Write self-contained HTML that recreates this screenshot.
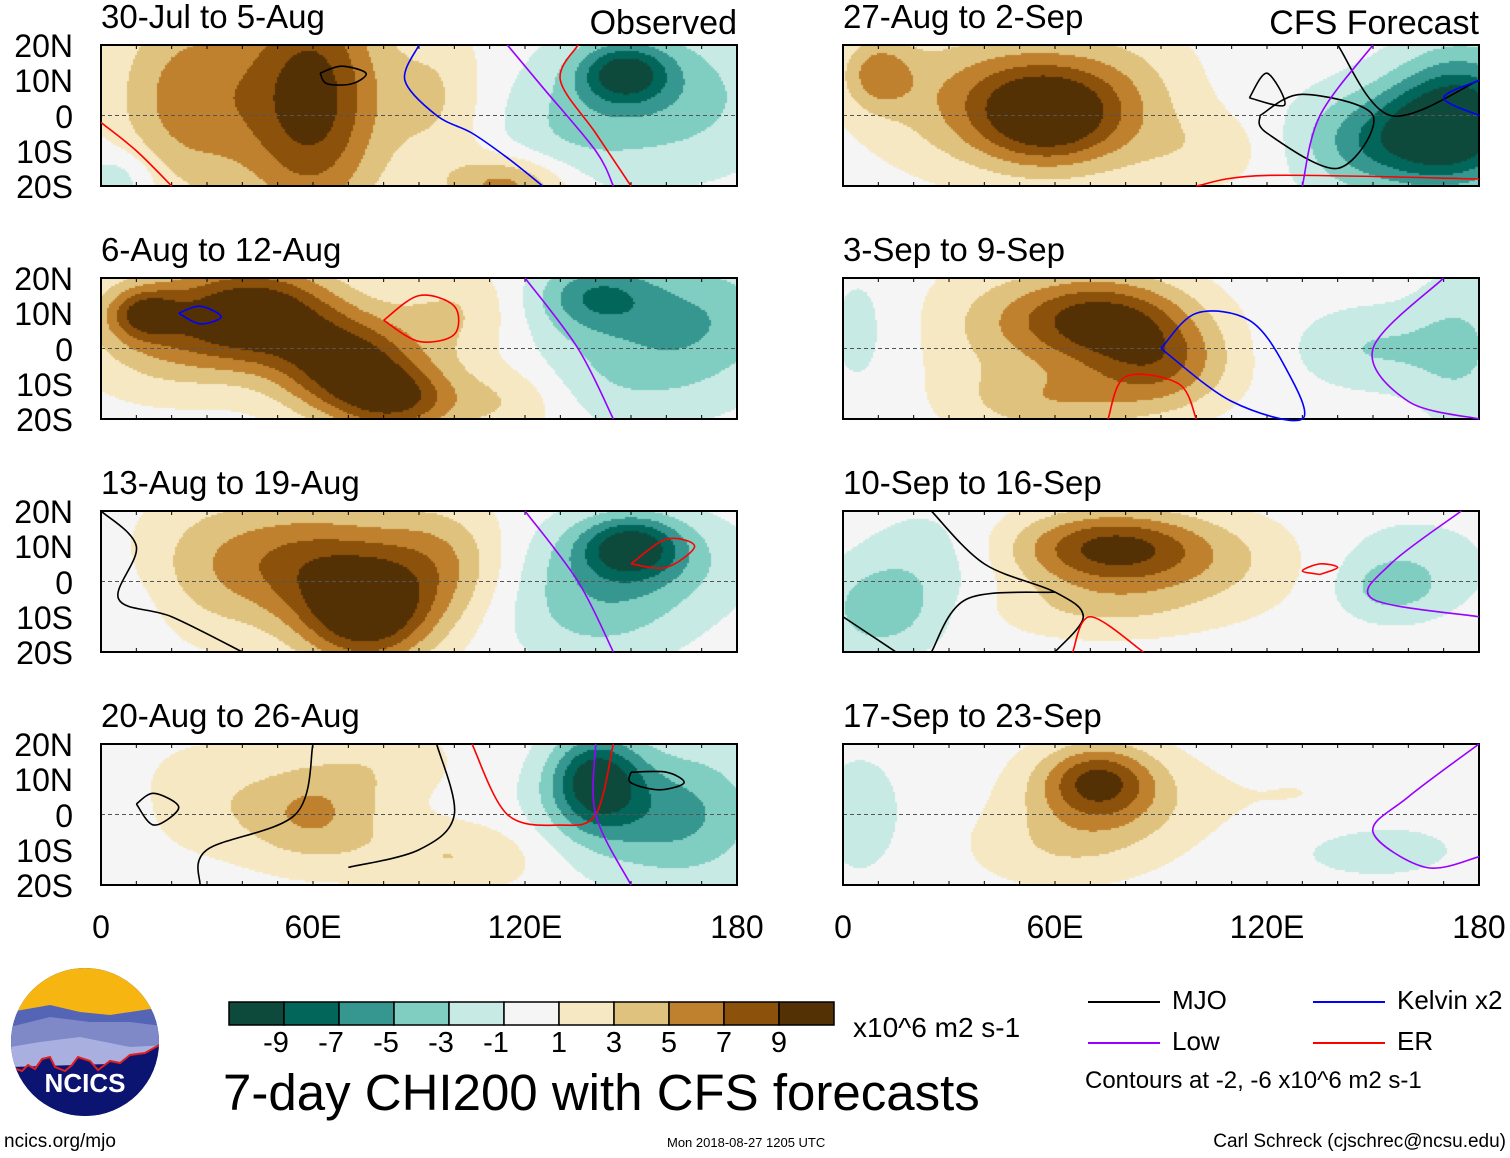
<!DOCTYPE html>
<html><head><meta charset="utf-8"><style>
body{margin:0;width:1510px;height:1158px;background:#fff;position:relative;overflow:hidden;font-family:"Liberation Sans",sans-serif;color:#000}
.t{position:absolute;white-space:nowrap;line-height:1}
canvas{position:absolute}
svg{position:absolute;left:0;top:0}
</style></head><body>
<div id="root"></div>
<svg id="ov" width="1510" height="1158"></svg>
<script>
// ---- data ----
const panelTitles=["30-Jul to 5-Aug","6-Aug to 12-Aug","13-Aug to 19-Aug","20-Aug to 26-Aug","27-Aug to 2-Sep","3-Sep to 9-Sep","10-Sep to 16-Sep","17-Sep to 23-Sep"];
const yTicks=["20N","10N","0","10S","20S"];
const xTicks=["0","60E","120E","180"];
const levels=[-9,-7,-5,-3,-1,1,3,5,7,9];
const levelColors=["#0d4a3c","#02665b","#35978f","#80cdc1","#c7eae5","#f5f5f5","#f6e8c3","#dfc27d","#bf812d","#8c510a","#543005"];
// anomaly centres per panel: [lon, lat, amplitude, lon-width, lat-width]
const blobs1=[[60,5,10,14,25],[25,5,6,15,20],[95,5,3,10,15],[115,-20,6,12,6],[148,12,-8,9,6],[160,5,-4,22,15],[130,-5,-2,15,12],[5,-18,-3,8,6]];
const blobs2=[[45,10,10,16,10],[70,-5,10,14,10],[85,-15,7,12,7],[20,5,5,18,12],[100,10,3,12,10],[115,-15,3,12,8],[140,15,-6,12,7],[170,10,-4,18,12],[150,-5,-3,22,12],[12,10,6,7,5]];
const blobs3=[[75,-10,10,13,10],[60,5,7,18,12],[95,5,5,14,12],[30,5,3,15,15],[150,10,-8,10,6],[150,5,-4,22,10],[140,-10,-3,18,10],[5,-10,-1,10,10]];
const blobs4=[[60,0,5,14,10],[80,15,2,15,8],[100,-12,3,18,7],[30,5,2,15,12],[140,10,-9,9,9],[150,0,-4,18,12],[170,0,-3,15,15],[0,0,-1,8,8]];
const blobs5=[[58,0,9,14,10],[40,5,5,22,14],[80,5,3,15,15],[10,12,5,7,7],[175,0,-9,13,13],[160,-5,-5,18,10],[150,-10,-3,18,10],[105,-10,2,15,8]];
const blobs6=[[72,8,10,18,9],[90,-5,6,14,9],[60,-15,4,18,7],[40,5,2,15,15],[150,0,-3,15,8],[175,0,-3,10,15],[5,5,-1.5,8,15]];
const blobs7=[[75,10,7,18,7],[90,5,4,28,10],[70,-8,2,22,6],[10,-8,-4,11,9],[25,5,-2,14,12],[155,-2,-3,10,6],[160,5,-2,18,10]];
const blobs8=[[72,10,7,11,7],[75,3,4,18,10],[60,-10,2,18,8],[5,0,-2,9,13],[150,-10,-2,18,6],[130,5,1,18,10]];
const allBlobs=[blobs1,blobs2,blobs3,blobs4,blobs5,blobs6,blobs7,blobs8];
// contour lines per panel: [panel, color, [[lon,lat],...]]
const contours=[
[0,"#000",[[62,12],[68,14],[75,12],[71,9],[64,9],[62,12]]],
[0,"#00f",[[90,20],[86,10],[95,0],[105,-5],[115,-12],[125,-20]]],
[0,"#f00",[[0,-2],[10,-10],[20,-20]]],
[0,"#f00",[[135,20],[130,10],[140,-5],[150,-20]]],
[0,"#90f",[[115,20],[125,8],[140,-10],[145,-20]]],
[1,"#00f",[[22,10],[28,12],[34,9],[28,7],[22,10]]],
[1,"#f00",[[80,8],[90,15],[100,12],[100,4],[90,2],[80,8]]],
[1,"#90f",[[120,20],[135,0],[145,-20]]],
[2,"#000",[[0,20],[10,10],[5,-5],[20,-10],[40,-20]]],
[2,"#f00",[[150,5],[160,12],[168,10],[160,4],[150,5]]],
[2,"#90f",[[120,20],[135,0],[145,-20]]],
[3,"#000",[[10,3],[15,6],[22,2],[15,-3],[10,3]]],
[3,"#000",[[60,20],[55,0],[30,-10],[28,-20]]],
[3,"#000",[[95,20],[100,0],[90,-10],[70,-15]]],
[3,"#000",[[150,12],[160,12],[165,9],[158,7],[150,9],[150,12]]],
[3,"#f00",[[105,20],[115,0],[130,-3],[140,0],[145,20]]],
[3,"#90f",[[140,20],[140,0],[150,-20]]],
[4,"#000",[[115,5],[120,12],[125,3],[115,5]]],
[4,"#000",[[118,0],[130,6],[150,0],[140,-15],[120,-5],[118,0]]],
[4,"#000",[[140,20],[155,0],[180,10]]],
[4,"#f00",[[100,-20],[120,-17],[180,-18]]],
[4,"#00f",[[180,10],[170,5],[180,0]]],
[4,"#90f",[[150,20],[135,0],[130,-20]]],
[5,"#00f",[[90,0],[100,10],[115,8],[125,-5],[130,-20],[110,-15],[90,0]]],
[5,"#f00",[[75,-20],[80,-8],[95,-10],[100,-20]]],
[5,"#90f",[[180,-20],[160,-15],[150,0],[170,20]]],
[6,"#000",[[25,20],[40,5],[60,-3],[68,-10],[60,-20]]],
[6,"#000",[[0,-10],[15,-20]]],
[6,"#000",[[25,-20],[35,-5],[60,-3]]],
[6,"#f00",[[65,-20],[70,-10],[85,-20]]],
[6,"#f00",[[135,2],[140,4],[135,5],[130,3],[135,2]]],
[6,"#90f",[[175,20],[155,5],[150,-5],[180,-10]]],
[7,"#90f",[[180,20],[160,5],[150,-5],[165,-15],[180,-12]]]
];
// ---- layout ----
const W=636,H=141;
const panelPos=[[101,45],[101,278],[101,511],[101,744],[843,45],[843,278],[843,511],[843,744]];
const root=document.getElementById('root');
const svg=document.getElementById('ov');
const NS="http://www.w3.org/2000/svg";
const xScale=(lon,px)=>px+lon/180*W;
const yScale=(lat,py)=>py+(20-lat)/40*H;
function colorFor(v){let i=0;while(i<levels.length&&v>levels[i])i++;return levelColors[i];}
function txt(s,x,y,size,name,anchor){
  const d=document.createElement('div');d.className='t';d.textContent=s;
  d.style.left=x+'px';d.style.top=y+'px';d.style.fontSize=size+'px';
  if(anchor==='end'){d.style.transform='translateX(-100%)';}
  if(anchor==='middle'){d.style.transform='translateX(-50%)';}
  
  
  root.appendChild(d);return d;
}
function smoothPath(P){
  let d='M'+P[0][0]+' '+P[0][1];
  for(let i=0;i<P.length-1;i++){
    const p0=P[Math.max(0,i-1)],p1=P[i],p2=P[i+1],p3=P[Math.min(P.length-1,i+2)];
    const c1=[p1[0]+(p2[0]-p0[0])/6,p1[1]+(p2[1]-p0[1])/6],c2=[p2[0]-(p3[0]-p1[0])/6,p2[1]-(p3[1]-p1[1])/6];
    d+=' C'+c1.join(' ')+' '+c2.join(' ')+' '+p2.join(' ');
  }
  return d;
}
panelPos.forEach((p,k)=>{
  const [px,py]=p;
  const c=document.createElement('canvas');c.width=W;c.height=H;c.style.left=px+'px';c.style.top=py+'px';
  
  
  root.appendChild(c);
  const ctx=c.getContext('2d');const b=allBlobs[k];const s=2;
  for(let x=0;x<W;x+=s){for(let y=0;y<H;y+=s){
    const lon=(x+1)/W*180,lat=20-(y+1)/H*40;let v=0;
    for(const q of b){const dx=(lon-q[0])/q[3],dy=(lat-q[1])/q[4];v+=q[2]*Math.exp(-0.5*(dx*dx+dy*dy));}
    ctx.fillStyle=colorFor(v);ctx.fillRect(x,y,s,s);
  }}
  const eq=document.createElementNS(NS,'line');
  eq.setAttribute('x1',px);eq.setAttribute('x2',px+W);eq.setAttribute('y1',yScale(0,py));eq.setAttribute('y2',yScale(0,py));
  eq.setAttribute('stroke','#555');eq.setAttribute('stroke-dasharray','4,3');eq.setAttribute('stroke-width','1');
  
  
  svg.appendChild(eq);
  const r=document.createElementNS(NS,'rect');
  r.setAttribute('x',px);r.setAttribute('y',py);r.setAttribute('width',W);r.setAttribute('height',H);
  r.setAttribute('fill','none');r.setAttribute('stroke','#000');r.setAttribute('stroke-width','2');
  
  
  svg.appendChild(r);
  for(let lon=0;lon<=180;lon+=10){
    const tx=xScale(lon,px);
    [[py,py+4],[py+H-4,py+H]].forEach(([a,bb])=>{const l=document.createElementNS(NS,'line');
      l.setAttribute('x1',tx);l.setAttribute('x2',tx);l.setAttribute('y1',a);l.setAttribute('y2',bb);l.setAttribute('stroke','#000');
      
      
      svg.appendChild(l);});
  }
  txt(panelTitles[k],px,py-45,33,'panel-title');
  if(k<4){yTicks.forEach((t,i)=>txt(t,73,py+i*H/4-15,32,'y-tick-label','end'));}
});
txt("Observed",737,6,34,'observed-label','end');
txt("CFS Forecast",1479,6,34,'cfs-forecast-label','end');
contours.forEach(cn=>{
  const [k,col,pts]=cn;const [px,py]=panelPos[k];
  const pl=document.createElementNS(NS,'path');
  pl.setAttribute('d',smoothPath(pts.map(q=>[xScale(q[0],px),yScale(q[1],py)])));
  pl.setAttribute('fill','none');pl.setAttribute('stroke',col);pl.setAttribute('stroke-width','1.6');
  
  
  svg.appendChild(pl);
});
[101,843].forEach(px=>xTicks.forEach((t,i)=>txt(t,px+i*W/3,911,32,'x-tick-label','middle')));
const cbX=229,cbY=1002,cbW=55,cbH=23;
levelColors.forEach((c,i)=>{
  const r=document.createElementNS(NS,'rect');
  r.setAttribute('x',cbX+i*cbW);r.setAttribute('y',cbY);r.setAttribute('width',cbW);r.setAttribute('height',cbH);
  r.setAttribute('fill',c);r.setAttribute('stroke','#000');r.setAttribute('stroke-width','1.5');
  
  
  svg.appendChild(r);
});
levels.forEach((l,i)=>txt(String(l),cbX+(i+1)*cbW-(l<0?8:0),1029,29,'colorbar-label','middle'));
txt("x10^6 m2 s-1",853,1014,28,'colorbar-units');
txt("7-day CHI200 with CFS forecasts",223,1067,51,'chart-title');
const legend=[["MJO","#000",1088,1002],["Kelvin x2","#00f",1313,1002],["Low","#90f",1088,1043],["ER","#f00",1313,1043]];
legend.forEach(([n,c,x,y])=>{
  const l=document.createElementNS(NS,'line');
  l.setAttribute('x1',x);l.setAttribute('x2',x+72);l.setAttribute('y1',y);l.setAttribute('y2',y);l.setAttribute('stroke',c);l.setAttribute('stroke-width','2');
  
  
  svg.appendChild(l);
  txt(n,x+84,y-15,26,'legend-entry');
});
txt("Contours at -2, -6 x10^6 m2 s-1",1085,1069,24,'contour-note');
txt("ncics.org/mjo",4,1132,19,'footer-url');
txt("Mon 2018-08-27 1205 UTC",667,1136,13,'timestamp');
txt("Carl Schreck (cjschrec@ncsu.edu)",1506,1132,19,'author-credit','end');
</script>
<svg width="160" height="160" style="left:10px;top:967px" viewBox="0 0 160 160">
<defs><clipPath id="cl"><circle cx="75" cy="75" r="74"/></clipPath></defs>
<g clip-path="url(#cl)">
<rect width="160" height="160" fill="#0b1470"/>
<rect width="160" height="50" fill="#f6b510"/>
<path d="M0 45 L40 38 L70 45 L100 48 L140 42 L160 45 L160 80 L0 90Z" fill="#5565b5"/>
<path d="M0 60 L40 50 L80 55 L120 55 L160 60 L160 80 L0 95Z" fill="#7f89c8"/>
<path d="M0 80 L30 75 L70 70 L120 80 L160 78 L160 95 L0 100Z" fill="#a9b0e0"/>
<path d="M0 100 L12 104 L18 98 L25 102 L32 92 L40 90 L45 100 L55 104 L62 98 L68 90 L80 94 L88 103 L100 94 L110 96 L120 88 L135 86 L160 72 L160 160 L0 160Z" fill="#0b1470" stroke="#e02020" stroke-width="2"/>
</g>
<text x="75" y="125" text-anchor="middle" font-family="Liberation Sans" font-weight="bold" font-size="26" fill="#fff">NCICS</text>
</svg>
</body></html>
